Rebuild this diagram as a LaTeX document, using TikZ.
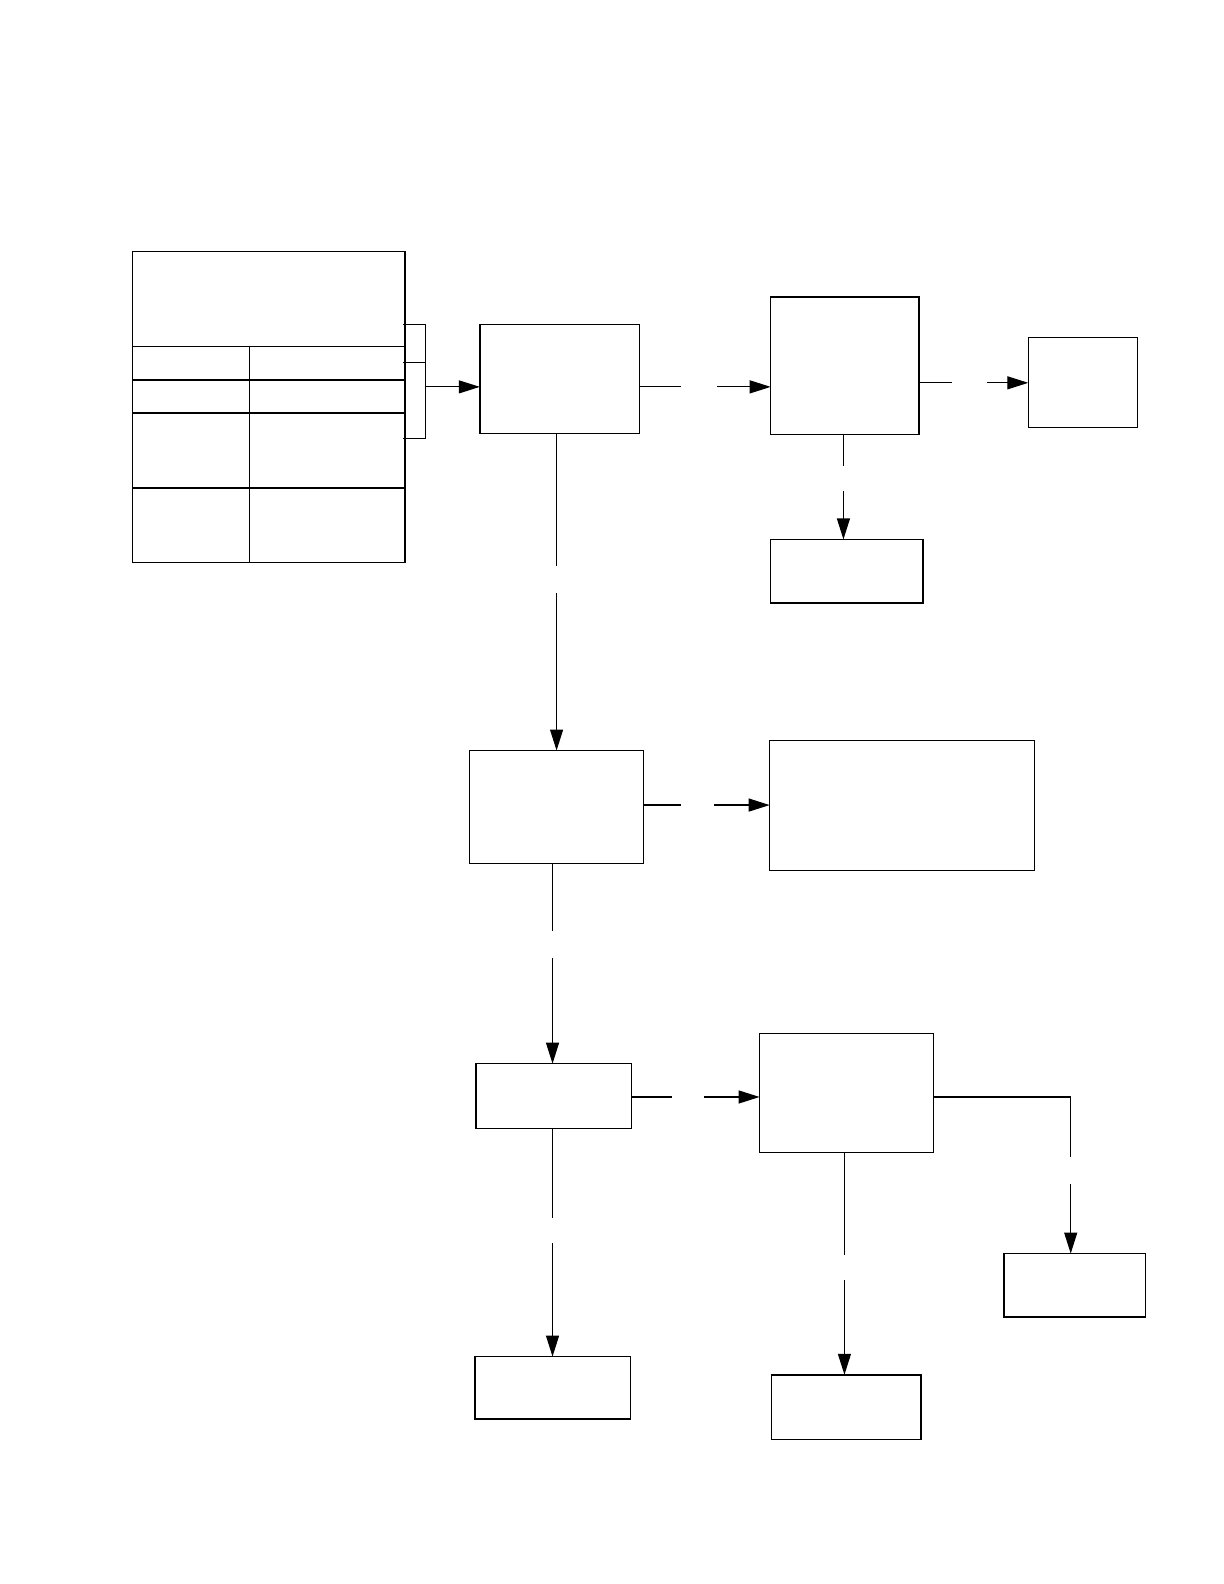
\documentclass[tikz,border=0pt]{standalone}
\usetikzlibrary{arrows.meta}
\newcommand\skf{1.0101}
\tikzset{
  box/.style={draw, line width=0.75bp, inner sep=0pt, outer sep=0pt, fill=none},
  conn/.style={line width=0.6bp},
  arr/.style={conn, -{Triangle[length=10.5bp,width=6.5bp]}},
  rule/.style={line width=0.75bp},
  bsize/.style 2 args={minimum width=#1bp*\skf, minimum height=#2bp*\skf}
}
\begin{document}
\begin{tikzpicture}[x=0.50505bp,y=-0.50505bp]
\useasboundingbox (0,0) rectangle (1211.76,1568.16);
% table
\node[box, bsize={135}{154}] (T) at (266,403) {};
\draw[rule] (131,343) -- (401,343);
\draw[rule] (131,376) -- (401,376);
\draw[rule] (131,409) -- (401,409);
\draw[rule] (131,483) -- (401,483);
\draw[rule] (247,343) -- (247,557);
% boxes
\node[box, bsize={79}{54}] (A) at (554,375) {};
\node[box, bsize={73.5}{68}] (B) at (836.5,362) {};
\node[box, bsize={54}{44.5}] (C) at (1072,378.5) {};
\node[box, bsize={75.5}{31.5}] (D) at (838.5,565.5) {};
\node[box, bsize={86}{56}] (E) at (551,799) {};
\node[box, bsize={131}{64.5}] (F) at (893,797.5) {};
\node[box, bsize={77}{32}] (G) at (548,1085) {};
\node[box, bsize={86}{59}] (H) at (838,1082) {};
\node[box, bsize={70}{31.5}] (I) at (1064,1272.5) {};
\node[box, bsize={77}{31}] (J) at (547,1374) {};
\node[box, bsize={74}{32}] (K) at (838,1393) {};
% bracket
\coordinate (b1) at (399,321);
\coordinate (b2) at (399,359);
\coordinate (b3) at (399,434);
\coordinate (br) at (421,383);
\draw[conn] (b1) -- (br |- b1) -- (br |- b3) -- (b3);
\draw[conn] (b2) -- (br |- b2);
\draw[arr] (br) -- (A.west |- br);
% gap coordinates
\coordinate (ab1) at (674,383); \coordinate (ab2) at (710,383);
\coordinate (bc1) at (942,379); \coordinate (bc2) at (977,379);
\coordinate (bd1) at (835,461); \coordinate (bd2) at (835,486);
\coordinate (ae1) at (551,560); \coordinate (ae2) at (551,587);
\coordinate (ef1) at (674,797); \coordinate (ef2) at (707,797);
\coordinate (eg1) at (547,922); \coordinate (eg2) at (547,948);
\coordinate (gh1) at (665,1086); \coordinate (gh2) at (697,1086);
\coordinate (gj1) at (547,1206); \coordinate (gj2) at (547,1231);
\coordinate (hk1) at (836,1242); \coordinate (hk2) at (836,1267);
\coordinate (hi0) at (1060,1086); \coordinate (hi1) at (1060,1145); \coordinate (hi2) at (1060,1172);
% connectors
\draw[conn] (A.east |- ab1) -- (ab1);  \draw[arr] (ab2) -- (B.west |- ab2);
\draw[conn] (B.east |- bc1) -- (bc1);  \draw[arr] (bc2) -- (C.west |- bc2);
\draw[conn] (B.south -| bd1) -- (bd1); \draw[arr] (bd2) -- (D.north -| bd2);
\draw[conn] (A.south -| ae1) -- (ae1); \draw[arr] (ae2) -- (E.north -| ae2);
\draw[conn] (E.east |- ef1) -- (ef1);  \draw[arr] (ef2) -- (F.west |- ef2);
\draw[conn] (E.south -| eg1) -- (eg1); \draw[arr] (eg2) -- (G.north -| eg2);
\draw[conn] (G.east |- gh1) -- (gh1);  \draw[arr] (gh2) -- (H.west |- gh2);
\draw[conn] (G.south -| gj1) -- (gj1); \draw[arr] (gj2) -- (J.north -| gj2);
\draw[conn] (H.south -| hk1) -- (hk1); \draw[arr] (hk2) -- (K.north -| hk2);
\draw[conn] (H.east |- hi0) -- (hi0) -- (hi1); \draw[arr] (hi2) -- (I.north -| hi2);
\end{tikzpicture}
\end{document}
